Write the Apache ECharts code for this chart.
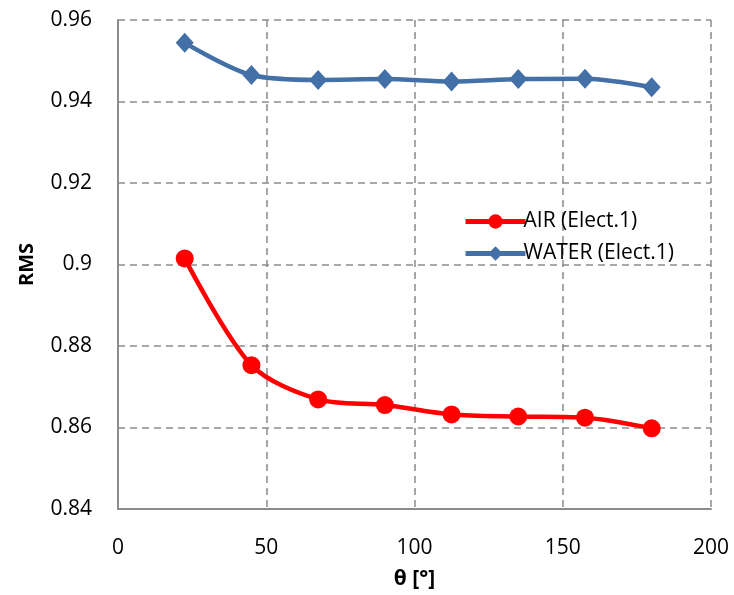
<!DOCTYPE html>
<html><head><meta charset="utf-8">
<script src="https://cdn.jsdelivr.net/npm/echarts@6/dist/echarts.min.js"></script>
<style>html,body{margin:0;padding:0;background:#fff}#c{width:734px;height:595px}</style>
</head><body><div id="c"></div>
<script>
const angles = [22.5, 45, 67.5, 90, 112.5, 135, 157.5, 180];
const airValues = [0.9015, 0.8753, 0.8669, 0.8655, 0.8632, 0.8627, 0.8624, 0.8598];
const waterValues = [0.9544, 0.9465, 0.9453, 0.9455, 0.9449, 0.9455, 0.9456, 0.9435];
const airName = 'AIR (Elect.1)';
const waterName = 'WATER (Elect.1)';
const yTicks = ['0.84','0.86','0.88','0.9','0.92','0.94','0.96'];

const font = 'Open Sans';
const chart = echarts.init(document.getElementById('c'), null, {renderer:'canvas'});
chart.setOption({
  animation:false,
  backgroundColor:'#fff',
  grid:{left:118, right:23, top:20, bottom:83, show:false},
  legend:{
    data:[airName, waterName],
    orient:'vertical', left:458, top:206, itemGap:11, itemWidth:60, itemHeight:18,
    lineStyle:{width:5},
    textStyle:{fontFamily:font, fontSize:21, color:'#000', padding:[0,0,0,-7]}
  },
  xAxis:{type:'value', min:0, max:200, interval:50,
    name:'θ [°]', nameLocation:'middle', nameGap:60,
    nameTextStyle:{fontFamily:font, fontSize:21, fontWeight:'bold', color:'#000'},
    axisLine:{show:true, lineStyle:{color:'#8c8c8c', width:2}},
    axisTick:{show:false},
    axisLabel:{fontFamily:font, fontSize:21, color:'#000', margin:29},
    splitLine:{show:true, lineStyle:{color:'#8c8c8c', type:[7,5], width:1.5}}
  },
  yAxis:{type:'value', min:0.84, max:0.96, interval:0.02,
    name:'RMS', nameLocation:'middle', nameGap:81, nameRotate:90,
    nameTextStyle:{fontFamily:font, fontSize:20, fontWeight:'bold', color:'#000'},
    axisLine:{show:true, lineStyle:{color:'#8c8c8c', width:2}},
    axisTick:{show:false},
    axisLabel:{fontFamily:font, fontSize:21, color:'#000', margin:26,
      formatter:function(v){ const s = yTicks.find(t=>Math.abs(parseFloat(t)-v)<1e-6); return s||''; }},
    splitLine:{show:true, lineStyle:{color:'#8c8c8c', type:[7,5], width:1.5}}
  },
  series:[
    {name:airName, type:'line', smooth:0.3, data:angles.map((a,i)=>[a,airValues[i]]),
     symbol:'circle', symbolSize:18, itemStyle:{color:'#ff0000'},
     lineStyle:{color:'#ff0000', width:4.5}},
    {name:waterName, type:'line', smooth:0.3, data:angles.map((a,i)=>[a,waterValues[i]]),
     symbol:'diamond', symbolSize:[18,20], itemStyle:{color:'#4470a8'},
     lineStyle:{color:'#4470a8', width:4.5}}
  ]
});
</script></body></html>
